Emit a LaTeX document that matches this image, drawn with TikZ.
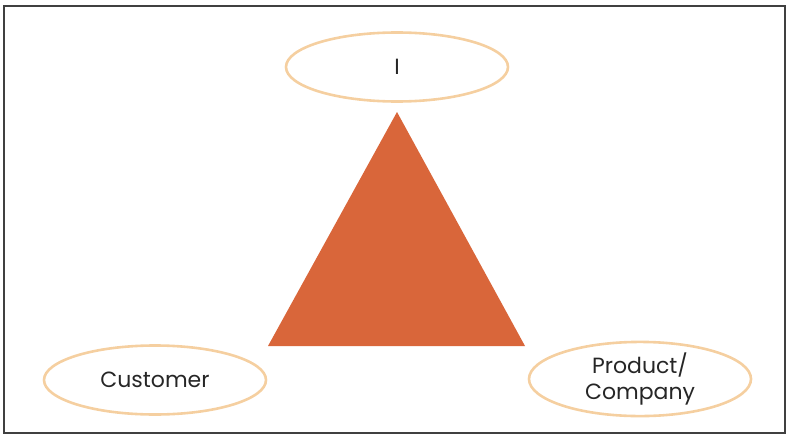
\documentclass[tikz,border=0pt]{standalone}
\usepackage{fontspec}
\setmainfont{Poppins}
\usepackage{xcolor}
\usetikzlibrary{positioning,shapes.geometric}
\definecolor{peach}{HTML}{F5CFA0}
\definecolor{rust}{HTML}{D9663A}
\definecolor{ink}{HTML}{262626}
\tikzset{
	ovalnode/.style={ellipse, draw=peach, line width=2.6pt, minimum width=222pt, minimum height=69pt, text=ink, font=\fontsize{22}{26}\selectfont, align=center, inner sep=0pt}
}

\begin{document}
\begin{tikzpicture}[x=1pt, y=-1pt]
		\useasboundingbox (0,0) rectangle (786,436);
		\draw[line width=1.3pt, draw=black!75] (4,6) rectangle (785,433);

		\fill[rust] (397,112) coordinate (top) -- (525,346) coordinate (right) -- (268,346) coordinate (left) -- cycle;

		\node[ovalnode] at (397,67) (me)     {I};
		\node[ovalnode] at (155,380) (cust)    {Customer};
		\node[ovalnode] at (640,379) (prod)    {Product/\\Company};
	\end{tikzpicture}
\end{document}
